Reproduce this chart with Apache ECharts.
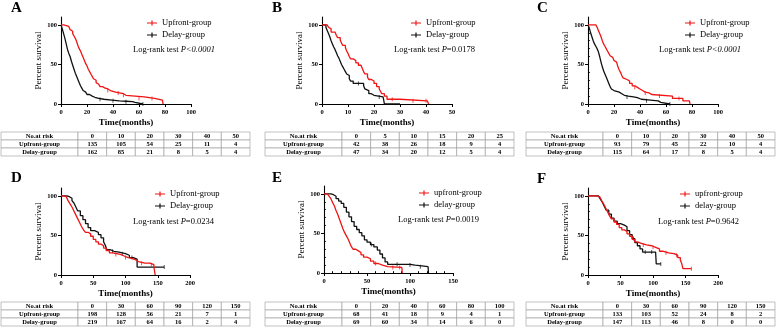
<!DOCTYPE html>
<html>
<head>
<meta charset="utf-8">
<script src="https://cdn.jsdelivr.net/npm/echarts@6/dist/echarts.min.js"></script>
<style>
  html, body { margin: 0; padding: 0; background: #fff; }
  #chart { width: 777px; height: 328px; }
</style>
</head>
<body>
<div id="chart"></div>
<script>
// survival curves: [time in months, percent surviving]
const upfrontA = [[0,100],[2,99],[4,98],[6,96],[7,94],[8,92],[9,89],[10,86],[11,83],[12,79],[13,74],[14,70],[15,67],[16,63],[17,59],[18,55],[19,51],[20,48],[21,44],[22,41],[23,38],[24,35],[25,32],[26,30],[27,27],[28,25],[29,23],[30,22],[32,20],[34,19],[36,17],[38,16],[40,15],[42,14],[45,13],[48,11],[50,9],[64,7],[72,5],[78,5],[78.5,0]]
const delayA = [[0,100],[1,95],[2,89],[3,83],[4,76],[5,69],[6,64],[7,60],[8,54],[9,49],[10,44],[11,39],[12,35],[13,31],[14,27],[15,23],[16,20],[17,17],[18,15],[19,13],[20,12],[22,10],[24,8.5],[26,7],[29,6],[33,5],[39,4],[45,3.5],[50,3],[55,2],[57,0],[63,0]]
const upfrontB = [[0,100],[2,100],[2.5,97],[3,95],[3.5,91],[5,89],[5.5,87],[6,84],[7,81],[7.5,77],[8,74],[9,71],[9.5,67],[10,64],[10.5,60],[11,57],[12,55],[13,52],[14,49],[15,47],[15.5,45],[16,41],[16.5,38],[17.5,34],[18,31],[19,29],[20,26],[21,22],[22,19],[22.5,16],[23,13],[24,10],[25,6],[30,4],[40.5,4],[41,0]]
const delayB = [[0,100],[1.5,97],[2,93],[2.5,89],[3,85],[3.5,80],[4,76],[4.5,72],[5,69],[5.5,65],[6,61],[6.5,58],[7,54],[7.5,50],[8,47],[8.5,44],[9,41],[9.5,38],[10,36],[10.5,32],[11,29],[12,26],[16,23],[16.5,19],[17,17],[18,13],[19,11],[20,9],[23.5,9],[24,0],[30,0]]
const upfrontC = [[0,100],[6,100],[7,97],[8,93],[9,89],[10,85],[11,80],[12,76],[13,73],[14,70],[15,67],[16,64],[17,61],[18,59],[19,57],[20,55],[21,53],[22,51],[23,47],[24,43],[25,40],[26,36],[27,33],[28,31],[30,29],[32,26],[34,23],[36,21],[38,19],[40,17],[42,15],[44,14],[47,12],[49,10],[65,7],[73,4],[78,4],[78.5,0]]
const delayC = [[0,100],[1,96],[2,90],[3,85],[4,80],[5,76],[6,73],[7,70],[8,66],[9,60],[10,53],[11,47],[12,42],[13,38],[14,34],[15,30],[16,26],[17,22],[18,19],[19,17],[20,16],[22,15],[24,13],[26,11],[28,10],[31,9],[35,8],[38,6],[41,5],[48,4],[54,2],[56,0],[63,0]]
const upfrontD = [[0,100],[4,99],[8,97],[11,94],[14,90],[17,86],[20,81],[23,76],[26,71],[29,66],[32,61],[35,57],[38,54],[42,52],[46,49],[50,45],[54,42],[58,39],[62,37],[66,34],[70,31],[75,28],[80,27],[86,26],[92,24],[98,22],[104,21],[110,19],[116,17],[120,15],[130,15],[138,13],[144,10],[145.5,10],[146,0]]
const delayD = [[0,100],[9,99],[13,97],[17,94],[20,91],[23,86],[26,81],[30,75],[34,70],[38,65],[42,60],[46,56],[52,54],[58,51],[62,47],[66,42],[69,37],[71,32],[76,30],[82,29],[90,27],[100,25],[106,22],[112,20],[118,10],[160,10]]
const upfrontE = [[0,100],[4,100],[6,97],[8,94],[10,89],[12,85],[14,79],[16,74],[18,68],[20,62],[22,56],[24,51],[26,47],[28,43],[30,38],[32,33],[34,30],[37,28],[40,26],[43,23],[46,20],[50,18],[54,15],[58,12],[63,10],[68,8],[74,7],[90.5,7],[91,0]]
const delayE = [[0,100],[8,99],[11,97],[14,94],[17,91],[20,88],[23,83],[26,77],[29,71],[32,65],[35,59],[38,55],[41,51],[44,47],[47,42],[50,39],[54,36],[58,33],[62,29],[65,24],[68,19],[71,14],[74,11],[100,10],[106,8],[121,8],[121.5,0]]
const upfrontF = [[0,100],[12,100],[15,99],[18,97],[21,94],[24,90],[27,85],[30,80],[33,75],[36,71],[40,67],[44,64],[48,60],[52,57],[56,55],[60,52],[64,49],[68,45],[72,42],[76,40],[82,38],[90,37],[98,35],[104,33],[110,30],[116,28],[124,27],[132,25],[138,22],[142,19],[144,15],[146,8],[159,8]]
const delayF = [[0,100],[12,100],[16,99],[19,96],[22,92],[25,87],[28,82],[32,77],[36,72],[40,68],[45,65],[50,63],[56,61],[60,56],[64,51],[68,46],[72,41],[76,37],[80,33],[84,29],[104,29],[105,14],[112,14]]

// censored observations (little ticks on the curves)
const censorUpA = [[36,17],[44,14],[48,11],[60,7],[70,7]]
const censorDelayA = [[30,6],[40,4],[50,3],[63,0]]
const censorUpB = [[27,6],[35,4],[40,4]]
const censorDelayB = [[14,26],[22,9]]
const censorUpC = [[36,21],[44,14],[55,10],[70,7]]
const censorDelayC = [[30,9],[45,4],[63,0]]
const censorUpD = [[85,26],[100,22],[125,15],[140,13]]
const censorDelayD = [[80,30],[95,27],[110,22],[160,10]]
const censorUpE = [[60,12],[80,7],[88,7]]
const censorDelayE = [[55,36],[85,11],[100,10],[112,8]]
const censorUpF = [[85,38],[100,35],[120,28],[136,25],[159,8]]
const censorDelayF = [[70,46],[88,29],[98,29],[112,14]]

// numbers at risk
const riskTimesA = [0, 10, 20, 30, 40, 50]
const riskUpA = [135, 105, 54, 25, 11, 4]
const riskDelayA = [162, 85, 21, 8, 5, 4]
const riskTimesB = [0, 5, 10, 15, 20, 25]
const riskUpB = [42, 38, 26, 18, 9, 4]
const riskDelayB = [47, 34, 20, 12, 5, 4]
const riskTimesC = [0, 10, 20, 30, 40, 50]
const riskUpC = [93, 79, 45, 22, 10, 4]
const riskDelayC = [115, 64, 17, 8, 5, 4]
const riskTimesD = [0, 30, 60, 90, 120, 150]
const riskUpD = [198, 128, 56, 21, 7, 1]
const riskDelayD = [219, 167, 64, 16, 2, 4]
const riskTimesE = [0, 20, 40, 60, 80, 100]
const riskUpE = [68, 41, 18, 9, 4, 1]
const riskDelayE = [69, 60, 34, 14, 6, 0]
const riskTimesF = [0, 30, 60, 90, 120, 150]
const riskUpF = [133, 103, 52, 24, 8, 2]
const riskDelayF = [147, 113, 46, 8, 0, 0]

const pValues = ['P<0.0001', 'P=0.0178', 'P<0.0001', 'P=0.0234', 'P=0.0019', 'P=0.9642']

const FONT = 'Liberation Serif'
const RED = '#f01414'
const BLACK = '#111'

const panels = [
  { key: 'A', left: 61, top: 17, width: 130, xMax: 100, step: 20, up: upfrontA, delay: delayA, cu: censorUpA, cd: censorDelayA,
    names: ['Upfront-group', 'Delay-group'], legend: [147, 18], logrank: [133, 50], pStyle: 'all', table: [1, 132], title: [11, 8],
    risk: [riskTimesA, riskUpA, riskDelayA] },
  { key: 'B', left: 322, top: 17, width: 130, xMax: 50, step: 10, up: upfrontB, delay: delayB, cu: censorUpB, cd: censorDelayB,
    names: ['Upfront-group', 'Delay-group'], legend: [411, 18], logrank: [394, 50], pStyle: 'p', table: [265, 132], title: [272, 8],
    risk: [riskTimesB, riskUpB, riskDelayB] },
  { key: 'C', left: 588, top: 17, width: 130, xMax: 100, step: 20, up: upfrontC, delay: delayC, cu: censorUpC, cd: censorDelayC,
    names: ['Upfront-group', 'Delay-group'], legend: [685, 18], logrank: [659, 50], pStyle: 'all', table: [526, 132], title: [537, 8],
    risk: [riskTimesC, riskUpC, riskDelayC], minorY: true },
  { key: 'D', left: 61, top: 188, width: 129, xMax: 200, step: 50, up: upfrontD, delay: delayD, cu: censorUpD, cd: censorDelayD,
    names: ['Upfront-group', 'Delay-group'], legend: [155, 189], logrank: [133, 222], pStyle: 'p', table: [1, 302], title: [11, 178],
    risk: [riskTimesD, riskUpD, riskDelayD] },
  { key: 'E', left: 324, top: 186, width: 129, xMax: 150, step: 50, up: upfrontE, delay: delayE, cu: censorUpE, cd: censorDelayE,
    names: ['upfront-group', 'delay-group'], legend: [419, 188], logrank: [398, 220], pStyle: 'p', table: [265, 302], title: [272, 178],
    risk: [riskTimesE, riskUpE, riskDelayE], minorY: true, minorX: true },
  { key: 'F', left: 588, top: 188, width: 130, xMax: 200, step: 50, up: upfrontF, delay: delayF, cu: censorUpF, cd: censorDelayF,
    names: ['upfront-group', 'delay-group'], legend: [680, 189], logrank: [658, 222], pStyle: 'p', table: [526, 302], title: [537, 179],
    risk: [riskTimesF, riskUpF, riskDelayF], minorY: true }
]

const grids = []
const xAxes = []
const yAxes = []
const series = []
const legends = []
const graphics = []

const tickLabel = { fontFamily: FONT, fontSize: 6.5, fontWeight: 'bold', color: '#000' }
const axisLine = { show: true, onZero: false, lineStyle: { color: '#000', width: 1.1 } }

function riskTable(x0, y0, times, up, delay) {
  const w = 249, firstW = 77, rowH = 8
  const colW = (w - firstW) / times.length
  const rows = [['No.at risk'].concat(times), ['Upfront-group'].concat(up), ['Delay-group'].concat(delay)]
  const els = []
  rows.forEach((row, r) => {
    row.forEach((v, c) => {
      const cx = c === 0 ? x0 : x0 + firstW + (c - 1) * colW
      const cw = c === 0 ? firstW : colW
      els.push({ type: 'rect', shape: { x: cx, y: y0 + r * rowH, width: cw, height: rowH },
        style: { fill: '#fff', stroke: '#999', lineWidth: 0.6 } })
      els.push({ type: 'text', style: { text: String(v), x: cx + cw / 2, y: y0 + r * rowH + rowH / 2 + 0.5,
        align: 'center', verticalAlign: 'middle', fontFamily: FONT, fontSize: 6.5, fontWeight: 'bold', fill: '#000' } })
    })
  })
  return els
}

panels.forEach((p, i) => {
  grids.push({ left: p.left, top: p.top, width: p.width, height: 87 })
  xAxes.push({
    gridIndex: i, type: 'value', min: 0, max: p.xMax, interval: p.step,
    name: 'Time(months)', nameLocation: 'middle', nameGap: 14,
    nameTextStyle: { fontFamily: FONT, fontSize: 9, fontWeight: 'bold', color: '#000' },
    axisLine: axisLine, axisTick: { show: true, length: 3, lineStyle: { color: '#000' } },
    axisLabel: Object.assign({ margin: 5 }, tickLabel), splitLine: { show: false }
  })
  yAxes.push({
    gridIndex: i, type: 'value', min: 0, max: 110,
    name: 'Percent survival', nameLocation: 'middle', nameGap: 17,
    nameTextStyle: { fontFamily: FONT, fontSize: 9, color: '#000' },
    axisLine: axisLine,
    axisTick: { show: true, length: 3, customValues: [0, 50, 100], lineStyle: { color: '#000' } },
    axisLabel: Object.assign({ margin: 4, customValues: [0, 50, 100] }, tickLabel),
    splitLine: { show: false }
  })
  series.push({
    name: p.names[0], type: 'line', step: 'end', xAxisIndex: i, yAxisIndex: i, data: p.up,
    showSymbol: false, symbol: 'none', color: RED, lineStyle: { color: RED, width: 1.3 }, z: 3
  })
  series.push({
    name: p.names[1], type: 'line', step: 'end', xAxisIndex: i, yAxisIndex: i, data: p.delay,
    showSymbol: false, symbol: 'none', color: BLACK, lineStyle: { color: BLACK, width: 1.3 }, z: 2
  })
  series.push({
    name: p.names[0], type: 'scatter', xAxisIndex: i, yAxisIndex: i, data: p.cu,
    symbol: 'rect', symbolSize: [0.9, 4], itemStyle: { color: RED }, z: 3
  })
  series.push({
    name: p.names[1], type: 'scatter', xAxisIndex: i, yAxisIndex: i, data: p.cd,
    symbol: 'rect', symbolSize: [0.9, 4], itemStyle: { color: BLACK }, z: 2
  })
  legends.push({
    data: p.names, orient: 'vertical', left: p.legend[0], top: p.legend[1], padding: 0,
    itemWidth: 10, itemHeight: 5, itemGap: 2,
    icon: 'path://M0,3L10,3L10,4L0,4Z M4.4,1L5.6,1L5.6,6L4.4,6Z',
    textStyle: { fontFamily: FONT, fontSize: 8.5, lineHeight: 10, color: '#000' },
    selectedMode: false
  })
  graphics.push({ type: 'text', style: { text: p.key, x: p.title[0], y: p.title[1], verticalAlign: 'middle',
    fontFamily: FONT, fontSize: 15, fontWeight: 'bold', fill: '#000' } })
  const pText = p.pStyle === 'all'
    ? 'Log-rank test {i|' + pValues[i] + '}'
    : 'Log-rank test {i|P}' + pValues[i].slice(1)
  graphics.push({ type: 'text', style: { text: pText, x: p.logrank[0], y: p.logrank[1], verticalAlign: 'middle',
    fontFamily: FONT, fontSize: 8.5, fill: '#000',
    rich: { i: { fontFamily: FONT, fontSize: 8.5, fontStyle: 'italic', fill: '#000' } } } })
  riskTable(p.table[0], p.table[1], p.risk[0], p.risk[1], p.risk[2]).forEach(el => graphics.push(el))
})

// short minor ticks drawn by extra axes laid over the main ones
panels.forEach((p, i) => {
  if (p.minorY) {
    yAxes.push({ gridIndex: i, type: 'value', min: 0, max: 110, axisLine: { show: false },
      axisTick: { show: true, length: 1.8, customValues: [10, 20, 30, 40, 60, 70, 80, 90], lineStyle: { color: '#000' } },
      axisLabel: { show: false }, splitLine: { show: false } })
  }
  if (p.minorX) {
    const vals = []
    for (let v = 10; v < p.xMax; v += 10) if (v % p.step !== 0) vals.push(v)
    xAxes.push({ gridIndex: i, type: 'value', min: 0, max: p.xMax, axisLine: { show: false },
      axisTick: { show: true, length: 1.8, customValues: vals, lineStyle: { color: '#000' } },
      axisLabel: { show: false }, splitLine: { show: false } })
  }
})

const chart = echarts.init(document.getElementById('chart'), null, { renderer: 'canvas' })
chart.setOption({
  animation: false,
  backgroundColor: '#fff',
  grid: grids,
  xAxis: xAxes,
  yAxis: yAxes,
  legend: legends,
  series: series,
  graphic: graphics
})
</script>
</body>
</html>
